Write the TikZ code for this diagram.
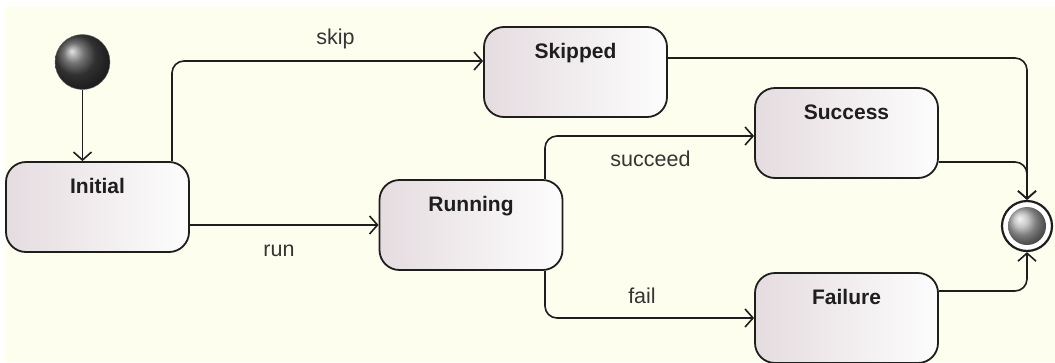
\documentclass[tikz,border=0pt]{standalone}
\usepackage{fontspec}
\setmainfont{Liberation Sans}
\usetikzlibrary{arrows.meta}
\definecolor{paper}{RGB}{253,254,238}
\definecolor{boxleft}{RGB}{229,220,224}
\definecolor{boxright}{RGB}{253,253,253}
\definecolor{ink}{RGB}{30,30,30}
\definecolor{startball}{RGB}{70,70,70}
\definecolor{endball}{RGB}{180,180,180}

\begin{document}
\begin{tikzpicture}[x=1pt,y=-1pt,
  state/.style={draw=ink, line width=1.8pt, rounded corners=20pt,
    minimum width=183pt, minimum height=90pt, inner sep=0pt,
    left color=boxleft, right color=boxright},
  title/.style={font=\fontsize{21}{24}\selectfont\bfseries, text=ink, anchor=base},
  trans/.style={draw=ink, line width=1.6pt, rounded corners=12pt,
    -{Straight Barb[length=8pt,width=18pt,line width=1.6pt]}},
  tlabel/.style={font=\fontsize{21.5}{24}\selectfont, text=ink!90, anchor=base}]

% canvas
\useasboundingbox (0,0) rectangle (1055,362);
\fill[white] (0,0) rectangle (1055,362);
\fill[paper] (5,7) rectangle (1055,362);

% pseudo states
\node[circle, minimum size=55pt, inner sep=0pt, shading=ball, ball color=startball,
      draw=ink!70, line width=0.4pt] (start) at (82.5,62) {};
\node[circle, draw=ink, line width=2.2pt, fill=white, minimum size=50pt, inner sep=0pt]
      (final) at (1027,226) {};
\node[circle, minimum size=38pt, inner sep=0pt, shading=ball, ball color=endball]
      (finalcore) at (final) {};

% states
\node[state, label={[title, yshift=-32pt]north:Initial}] (init) at (97.5,207) {};
\node[state, label={[title, yshift=-32pt]north:Skipped}] (skipped) at (575.5,72) {};
\node[state, label={[title, yshift=-32pt]north:Running}] (running) at (471,225) {};
\node[state, label={[title, yshift=-32pt]north:Success}] (success) at (846.5,133) {};
\node[state, label={[title, yshift=-32pt]north:Failure}] (failure) at (846.5,318) {};

% bend points of the transitions
\coordinate (skipbend) at (172,61);
\coordinate (sucbend) at (545,136);
\coordinate (failbend) at (545,318);
\coordinate (skipout) at (667,58);
\coordinate (sucout) at (938,162);
\coordinate (failout) at (938,291);

% transitions
\draw[trans] (start) -- (start |- init.north);
\draw[trans] (init.north -| skipbend) |- (skipped.west |- skipbend);
\draw[trans] (init.east |- running.west) -- (running.west);
\draw[trans] (running.north -| sucbend) |- (success.west |- sucbend);
\draw[trans] (running.south -| failbend) |- (failure.west |- failbend);
\draw[trans] (skipped.east |- skipout) -| (final.north);
\draw[trans] (success.east |- sucout) -| (final.north);
\draw[trans] (failure.east |- failout) -| (final.south);

% transition labels
\node[tlabel] (lskip) at (335.5,44) {skip};
\node[tlabel] (lrun) at (279,256) {run};
\node[tlabel] (lsucceed) at (650.5,166) {succeed};
\node[tlabel] (lfail) at (642,303) {fail};
\end{tikzpicture}
\end{document}
